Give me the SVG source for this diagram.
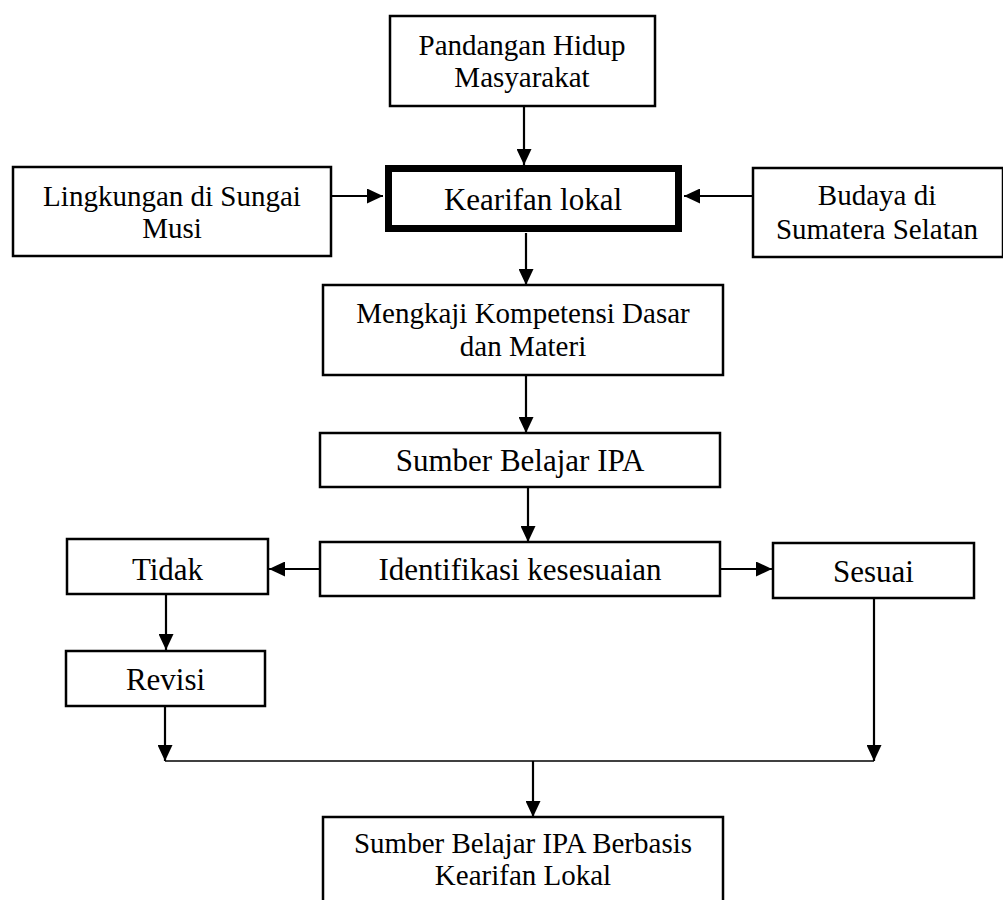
<svg xmlns="http://www.w3.org/2000/svg" width="1003" height="900" viewBox="0 0 1003 900">
<style>
.box{fill:#fff;stroke:#000;stroke-width:2.5}
.thick{fill:#fff;stroke:#000;stroke-width:7}
.t{font-family:"Liberation Serif","Times New Roman",serif;font-size:29px;fill:#000;text-anchor:middle}
.t1{font-size:31px}
.c{fill:none;stroke:#000;stroke-width:2.2}
.h{fill:none;stroke:#000;stroke-width:1.5}
</style>
<defs>
<marker id="ah" markerUnits="userSpaceOnUse" markerWidth="16" markerHeight="15" refX="16" refY="7.5" orient="auto">
<path d="M0,0 L16,7.5 L0,15 z" fill="#000"/>
</marker>
</defs>
<rect width="1003" height="900" fill="#fff"/>
<g id="connectors">
<line class="c" x1="524" y1="107" x2="524" y2="165" marker-end="url(#ah)"/>
<line class="c" x1="332" y1="196" x2="383" y2="196" marker-end="url(#ah)"/>
<line class="c" x1="752" y1="196" x2="684" y2="196" marker-end="url(#ah)"/>
<line class="c" x1="526" y1="233" x2="526" y2="285" marker-end="url(#ah)"/>
<line class="c" x1="526" y1="376" x2="526" y2="433" marker-end="url(#ah)"/>
<line class="c" x1="528" y1="488" x2="528" y2="542" marker-end="url(#ah)"/>
<line class="c" x1="319" y1="569" x2="269" y2="569" marker-end="url(#ah)"/>
<line class="c" x1="721" y1="569" x2="772" y2="569" marker-end="url(#ah)"/>
<line class="c" x1="166" y1="595" x2="166" y2="650" marker-end="url(#ah)"/>
<line class="c" x1="165" y1="707" x2="165" y2="761" marker-end="url(#ah)"/>
<line class="c" x1="874" y1="599" x2="874" y2="761" marker-end="url(#ah)"/>
<line class="h" x1="165" y1="761" x2="874" y2="761"/>
<line class="c" x1="533" y1="761" x2="533" y2="817" marker-end="url(#ah)"/>
</g>
<g id="pandangan">
<rect class="box" x="390" y="16" width="265" height="90"/>
<text class="t" x="522" y="55">Pandangan Hidup</text>
<text class="t" x="522" y="87">Masyarakat</text>
</g>
<g id="lingkungan">
<rect class="box" x="13" y="167" width="318" height="89"/>
<text class="t" x="172" y="206">Lingkungan di Sungai</text>
<text class="t" x="172" y="238">Musi</text>
</g>
<g id="kearifan">
<rect class="thick" x="388.5" y="168.5" width="290" height="60"/>
<text class="t t1" x="533" y="210">Kearifan lokal</text>
</g>
<g id="budaya">
<rect class="box" x="753" y="168" width="250" height="89"/>
<text class="t" x="877" y="205">Budaya di</text>
<text class="t" x="877" y="239">Sumatera Selatan</text>
</g>
<g id="mengkaji">
<rect class="box" x="323" y="285" width="400" height="90"/>
<text class="t" x="523" y="323">Mengkaji Kompetensi Dasar</text>
<text class="t" x="523" y="356">dan Materi</text>
</g>
<g id="sumber">
<rect class="box" x="320" y="433" width="400" height="54"/>
<text class="t t1" x="520" y="471">Sumber Belajar IPA</text>
</g>
<g id="identifikasi">
<rect class="box" x="320" y="542" width="400" height="54"/>
<text class="t t1" x="520" y="580">Identifikasi kesesuaian</text>
</g>
<g id="tidak">
<rect class="box" x="67" y="539" width="201" height="55"/>
<text class="t t1" x="167.5" y="580">Tidak</text>
</g>
<g id="sesuai">
<rect class="box" x="773" y="543" width="201" height="55"/>
<text class="t t1" x="873.5" y="582">Sesuai</text>
</g>
<g id="revisi">
<rect class="box" x="66" y="651" width="199" height="55"/>
<text class="t t1" x="165.5" y="690">Revisi</text>
</g>
<g id="final">
<rect class="box" x="323" y="817" width="400" height="95"/>
<text class="t" x="523" y="853">Sumber Belajar IPA Berbasis</text>
<text class="t" x="523" y="885">Kearifan Lokal</text>
</g>
</svg>
